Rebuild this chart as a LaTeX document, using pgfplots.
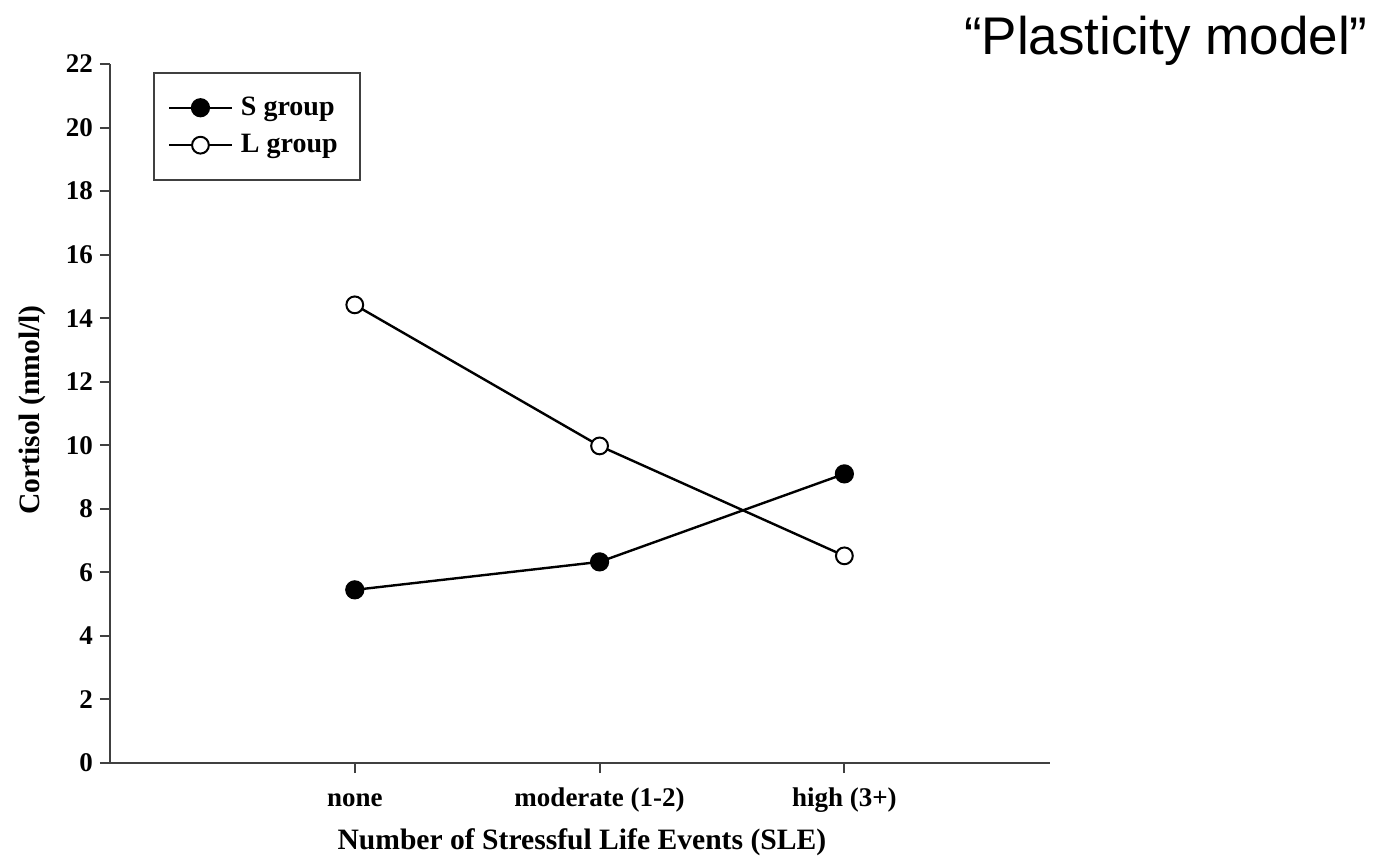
\documentclass[border=0pt]{standalone}
\usepackage{pgfplots}
\pgfplotsset{compat=1.18}
\usepackage{fontspec}
\setmainfont{Liberation Serif}
\newfontfamily\arialfont{Liberation Sans}
\begin{document}
\begin{tikzpicture}
\useasboundingbox (-55pt,-47.5pt) rectangle (638pt,381.5pt);
\begin{axis}[
  at={(0,0)}, anchor=south west,
  scale only axis, width=470pt, height=349.5pt,
  axis lines*=left,
  axis line style={black!75, line width=1.4pt},
  xmin=-1, xmax=2.84, ymin=0, ymax=22,
  xtick={0,1,2}, xticklabels={none, moderate (1-2), high (3+)},
  ytick={0,2,...,22},
  tick align=outside, major tick length=5pt,
  tick style={black!75, line width=1pt},
  every tick label/.append style={font=\fontsize{13.5}{15}\selectfont\bfseries},
  /pgf/number format/assume math mode=true,
  xticklabel style={yshift=-4pt, text height=9pt, text depth=3pt},
  ylabel={Cortisol (nmol/l)},
  xlabel={Number of Stressful Life Events (SLE)},
  label style={font=\fontsize{14.8}{17}\selectfont\bfseries},
  ylabel style={at={(axis description cs:-0.083,0.505)}, anchor=center},
  xlabel style={at={(axis description cs:0.502,-0.114)}, anchor=center},
  legend style={at={(rel axis cs:0.0457,0.9886)}, anchor=north west,
    draw=black!75, line width=1pt, inner xsep=7pt, inner ysep=10pt,
    font=\fontsize{14}{16}\selectfont\bfseries, row sep=4pt,
    nodes={inner xsep=4pt}},
  legend cell align=left,
  legend image code/.code={\draw[mark repeat=2,mark phase=2] plot coordinates {(0cm,0cm) (0.55cm,0cm) (1.1cm,0cm)};},
]
\addplot[black, line width=1.2pt, mark=*, mark size=4.2pt, mark options={fill=black}]
  coordinates {(0,5.45) (1,6.33) (2,9.1)};
\addlegendentry{S group}
\addplot[black, line width=1.2pt, mark=*, mark size=4.2pt, mark options={fill=white, line width=1pt}]
  coordinates {(0,14.42) (1,9.98) (2,6.52)};
\addlegendentry{L group}
\end{axis}
\node[anchor=north east, inner sep=0pt, font=\arialfont\fontsize{26.5}{30}\selectfont] at (629pt,373.5pt) {“Plasticity model”};
\end{tikzpicture}
\end{document}
